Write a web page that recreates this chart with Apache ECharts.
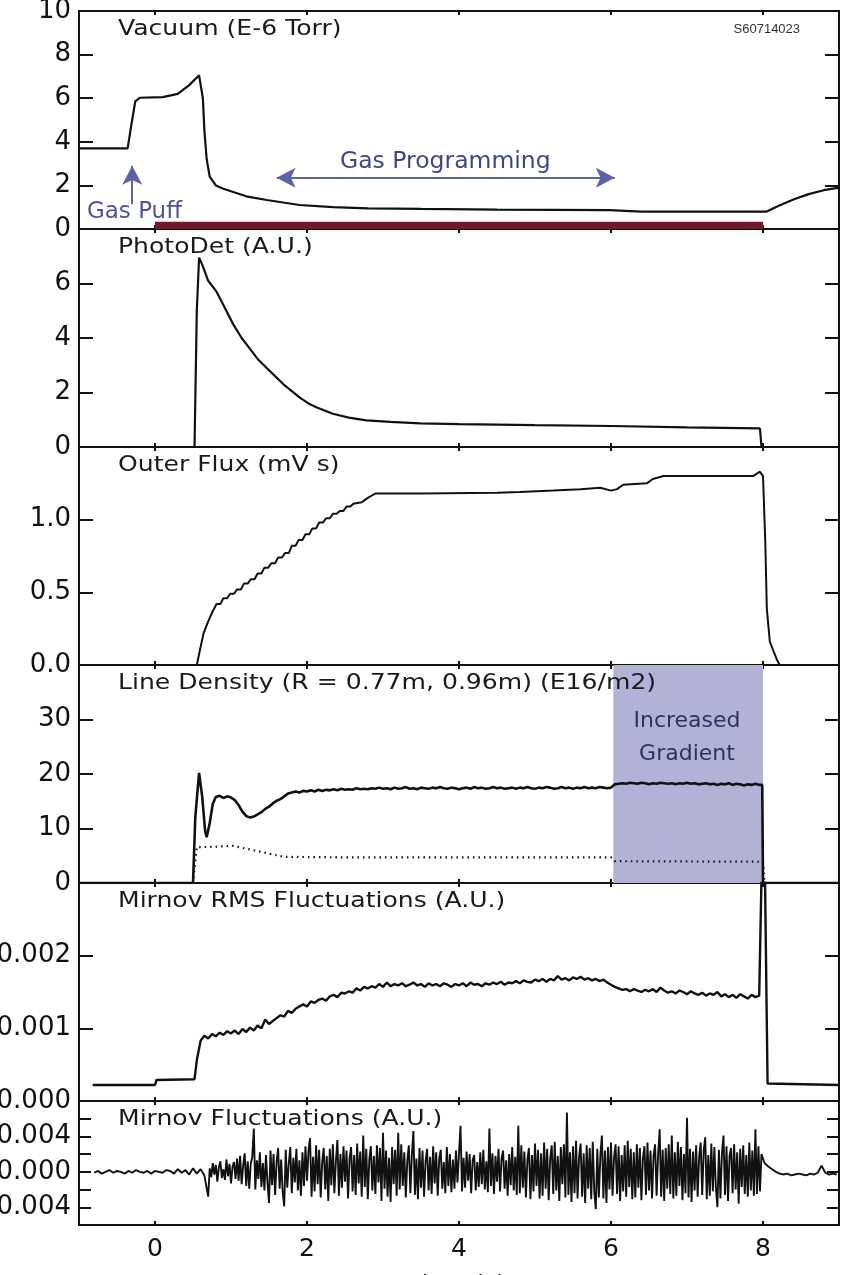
<!DOCTYPE html>
<html>
<head>
<meta charset="utf-8">
<script src="https://cdn.jsdelivr.net/npm/echarts@6/dist/echarts.min.js"></script>
<style>
  html, body { margin: 0; padding: 0; background: #fff; }
  #chart { width: 845px; height: 1275px; }
</style>
</head>
<body>
<div id="chart"></div>
<script>
// ---- shot S60714023 : time traces, time in seconds ----

const timeTicks = [0, 2, 4, 6, 8];

// Vacuum (E-6 Torr)
const vacuum = [
  [-1, 3.7], [-0.36, 3.7], [-0.31, 4.8], [-0.26, 5.85], [-0.2, 6.02], [0.1, 6.05],
  [0.3, 6.2], [0.45, 6.6], [0.58, 7.05], [0.63, 6.0], [0.65, 4.5], [0.68, 3.2],
  [0.72, 2.4], [0.8, 2.0], [0.9, 1.85], [1.03, 1.7], [1.2, 1.5], [1.47, 1.33],
  [1.9, 1.1], [2.34, 1.0], [2.8, 0.95], [3.5, 0.92], [4.5, 0.89], [5.98, 0.87],
  [6.4, 0.8], [8.05, 0.8], [8.2, 1.05], [8.4, 1.35], [8.6, 1.6], [8.8, 1.78], [9, 1.9]
];
const plasmaWindow = [0, 8];          // discharge interval, maroon band
const gasPuffTime = -0.3;
const gasProgramming = [1.6, 6.05];   // programmed gas interval

// PhotoDet (A.U.)
const photoDet = [
  [-1, 0], [0.52, 0], [0.55, 5.0], [0.58, 6.95], [0.62, 6.7], [0.7, 6.1], [0.81, 5.7],
  [0.92, 5.1], [1.03, 4.5], [1.14, 4.0], [1.25, 3.6], [1.36, 3.2], [1.47, 2.9],
  [1.58, 2.6], [1.69, 2.3], [1.8, 2.05], [1.91, 1.8], [2.02, 1.6], [2.13, 1.45],
  [2.34, 1.22], [2.55, 1.08], [2.78, 0.98], [3.1, 0.92], [3.49, 0.87], [4, 0.84],
  [5, 0.8], [6, 0.77], [7, 0.72], [7.96, 0.68], [7.98, 0], [9, 0]
];

// Outer Flux (mV s)
const outerFlux = [
  [-1, 0], [0.55, 0], [0.59, 0.1], [0.64, 0.22], [0.7, 0.3], [0.76, 0.37], [0.81, 0.42],
  [0.86, 0.42], [0.9, 0.46], [0.95, 0.46], [0.99, 0.49], [1.04, 0.49], [1.08, 0.52],
  [1.13, 0.52], [1.17, 0.56], [1.22, 0.56], [1.26, 0.59], [1.31, 0.59], [1.35, 0.63],
  [1.4, 0.63], [1.44, 0.67], [1.49, 0.67], [1.53, 0.7], [1.58, 0.7], [1.62, 0.74],
  [1.67, 0.74], [1.71, 0.77], [1.76, 0.77], [1.8, 0.82], [1.85, 0.82], [1.89, 0.86],
  [1.94, 0.86], [1.98, 0.9], [2.03, 0.9], [2.07, 0.94], [2.12, 0.94], [2.16, 0.98],
  [2.21, 0.98], [2.25, 1.01], [2.3, 1.01], [2.34, 1.04], [2.39, 1.04], [2.43, 1.06],
  [2.48, 1.06], [2.52, 1.09], [2.57, 1.09], [2.61, 1.11], [2.72, 1.12], [2.8, 1.15],
  [2.9, 1.18], [3.5, 1.18], [4.5, 1.185], [4.8, 1.19], [5.24, 1.2], [5.6, 1.21],
  [5.86, 1.22], [6.0, 1.2], [6.08, 1.21], [6.16, 1.24], [6.47, 1.25], [6.55, 1.28],
  [6.69, 1.3], [7.87, 1.3], [7.96, 1.33], [8.0, 1.3], [8.03, 0.85], [8.05, 0.39],
  [8.09, 0.16], [8.18, 0.04], [8.22, 0], [9, 0]
];

// Line Density (E16/m2), R = 0.77 m (solid) and 0.96 m (dotted)
const densityStart = [
  [-1, 0], [0.5, 0], [0.53, 12], [0.58, 20.2], [0.62, 16], [0.66, 9.5], [0.68, 8.4],
  [0.72, 11], [0.76, 14.5]
];
const densityT0 = 0.8, densityDt = 0.05;
const densityInner = [
  15.8, 16.0, 15.6, 15.9, 15.7, 15.2, 14.3, 13.1, 12.3, 12.0, 12.2, 12.6, 13.0, 13.6, 14.0, 14.6, 15.1, 15.4, 15.9, 16.4,
  16.6, 16.8, 16.6, 16.9, 16.8, 17.0, 16.8, 17.1, 16.9, 17.1, 17.0, 17.2, 17.0, 17.3, 17.1, 17.2, 17.1, 17.4, 17.2, 17.3,
  17.2, 17.4, 17.3, 17.5, 17.3, 17.4, 17.2, 17.5, 17.3, 17.4, 17.6, 17.3, 17.4, 17.2, 17.5, 17.4, 17.3, 17.5, 17.4, 17.6,
  17.4, 17.3, 17.5, 17.4, 17.2, 17.4, 17.5, 17.3, 17.6, 17.4, 17.5, 17.3, 17.4, 17.6, 17.4, 17.5, 17.3, 17.4, 17.5, 17.3,
  17.5, 17.4, 17.6, 17.4, 17.3, 17.5, 17.4, 17.6, 17.5, 17.3, 17.4, 17.6, 17.4, 17.5, 17.3, 17.5, 17.4, 17.6, 17.4, 17.5,
  17.4, 17.6, 17.5, 17.4, 17.5, 18.1, 18.2, 18.3, 18.2, 18.4, 18.3, 18.2, 18.4, 18.3, 18.1, 18.3, 18.2, 18.4, 18.3, 18.2,
  18.3, 18.1, 18.3, 18.2, 18.4, 18.2, 18.3, 18.1, 18.2, 18.3, 18.1, 18.2, 18.0, 18.2, 18.1, 18.3, 18.0, 18.2, 18.1, 17.9,
  18.1, 18.0, 18.2, 18.0
];
const densityEnd = [[7.99, 18.0], [8.0, 0], [9, 0]];
const densityOuter = [
  [0.5, 0], [0.55, 6.6], [0.64, 6.6], [1.03, 6.8], [1.2, 6.3], [1.47, 5.5], [1.69, 4.8],
  [2.5, 4.7], [3.5, 4.7], [6.0, 4.7], [6.05, 4.0], [8.0, 3.9], [8.02, 0]
];
const increasedGradient = [6.03, 8.0];

// Mirnov RMS Fluctuations (A.U.), noisy part stored in units of 1e-5
const rmsStart = [
  [-0.82, 0.00022], [0.0, 0.00022], [0.02, 0.00029], [0.52, 0.0003], [0.55, 0.00056]
];
const rmsT0 = 0.6, rmsDt = 0.05;
const rmsE5 = [
  83, 90, 86, 92, 89, 94, 91, 96, 93, 97, 92, 99, 95, 101, 97, 104, 100, 112, 106, 110,
  114, 118, 116, 124, 121, 127, 130, 133, 130, 137, 135, 139, 141, 138, 144, 146, 143, 149, 148, 151,
  149, 155, 152, 157, 155, 158, 156, 161, 157, 163, 158, 161, 159, 162, 158, 160, 163, 159, 161, 157,
  162, 159, 161, 158, 162, 160, 157, 161, 159, 162, 158, 163, 160, 161, 158, 162, 160, 163, 161, 164,
  160, 163, 162, 165, 162, 166, 164, 163, 167, 165, 168, 164, 168, 166, 172, 167, 169, 166, 170, 168,
  171, 167, 169, 166, 168, 165, 167, 163, 160, 157, 155, 153, 154, 151, 154, 152, 150, 153, 151, 154,
  150, 156, 152, 149, 151, 148, 152, 150, 147, 151, 148, 146, 149, 145, 148, 146, 150, 144, 147, 143,
  146, 142, 147, 144, 141, 146, 143, 145
];
const rmsEnd = [[7.97, 0.00143], [7.99, 0.0036], [8.02, 0.0036], [8.06, 0.00024], [9, 0.00022]];

// Mirnov Fluctuations (A.U.), stored in units of 1e-4
const fluctPre = { t0: -0.8, dt: 0.05, values: [
  -1, 1, -2, 0, 2, -1, 1, 0, -2, 1, -1, 2, 0, -1, 1, -2, 1, 0, -1, 2, 1, -2, 3, -1, 2, -3, 4, -2, 3, -4
]};
const fluctActive = { t0: 0.7, dt: 0.02, values: [
  -28, 4, -6, 10, -3, 8, -11, 5, 12, -7, 3, -9, 14, -5, 9, -13, 6, 11, -8, 15,
  -10, 18, -14, 7, 21, -16, 12, -19, 9, 17, 49, -20, 13, -8, 22, -17, 10, -21, 19, -12,
  -35, 24, -15, 20, -26, 11, 27, -19, 14, -23, -39, 25, -18, 9, 28, -24, 16, -12, 26, -21,
  13, -27, 22, -16, 29, -10, 24, 38, -28, 17, -22, 30, -14, 25, -29, 11, 27, -20, 18, -33,
  26, -15, 31, -24, 12, 36, -27, 20, -18, 29, -11, 24, -30, 15, 28, -22, 19, -26, 32, -13,
  23, -28, 41, -17, 26, -31, 14, 29, -21, 18, -25, 30, -12, 27, -33, 44, -19, 24, -28, 16,
  -34, 28, -14, 25, -27, 44, -20, 31, -16, 22, -29, 13, 30, -24, 19, 46, -26, 15, -31, 27,
  -18, 24, -28, 12, 26, -21, 17, -25, 29, -13, 22, -27, 15, 25, -19, 11, -24, 28, -16, 20,
  -23, 14, -19, 24, -12, 21, 52, -22, 16, -18, 23, -10, 20, -24, 13, 19, -21, 11, -17, 22,
  -14, 25, -20, 12, -23, 49, -16, 21, -25, 18, -11, 26, -22, 15, 24, -19, 13, -27, 20, -15,
  28, -21, 17, -26, 52, -24, 30, -18, 23, -29, 14, 27, -31, 19, -22, 32, -16, 25, -30, 21,
  -27, 33, -19, 26, -32, 15, 30, -25, 34, -21, 18, -33, 28, -14, 31, -29, 67, -26, 22, -34,
  29, -24, 35, -30, 17, 32, -28, 21, -35, 30, -19, 27, -31, 34, -23, -42, 26, -29, 18, 41,
  -30, 24, -35, 28, -20, 33, -27, 16, 31, -25, 29, -33, 19, -22, 30, -28, 35, -17, 26, -31,
  22, -29, 31, -18, 27, -32, 15, 29, -26, 33, -21, 24, -30, 18, 31, -27, 20, 48, -28, 25,
  -33, 27, -19, 31, -25, 41, -30, 22, -27, 34, -16, 28, -32, 20, -24, 61, -29, 26, -34, 23,
  -21, 30, -28, 17, 33, -26, 24, 39, -31, 19, -27, 32, -22, 28, -18, -40, 25, -30, 21, 41,
  -26, 29, -33, 18, 27, -24, 31, -20, 22, -36, 26, -17, 30, -25, 19, -28, 33, -21, 24, -27,
  48, -25, 29, -22, 20
]};
const fluctPost = { t0: 8.02, dt: 0.05, values: [
  10, 6, 3, 0, -2, -3, -2, -4, -3, -2, -3, -4, -2, -3, -1, 7, -1, -3, -2, -3
]};

// ---- build sampled traces ----
function sampled(t0, dt, values, unit) {
  return values.map((v, i) => [+(t0 + i * dt).toFixed(3), v * unit]);
}
const densitySeries = densityStart
  .concat(sampled(densityT0, densityDt, densityInner, 1))
  .concat(densityEnd);
const rmsSeries = rmsStart
  .concat(sampled(rmsT0, rmsDt, rmsE5, 1e-5))
  .concat(rmsEnd);
const fluctSeries = [fluctPre, fluctActive, fluctPost]
  .map(s => sampled(s.t0, s.dt, s.values, 1e-4))
  .flat();

// ---- layout ----
const FONT = 'DejaVu Sans';
const INK = '#111';
const LEFT = 79, RIGHT = 6;
const panels = [
  { top: 11,   height: 218, min: 0,      max: 10,    interval: 2,     fmt: v => String(v),     showMax: true,  title: 'Vacuum (E-6 Torr)' },
  { top: 229,  height: 218, min: 0,      max: 8,     interval: 2,     fmt: v => String(v),     showMax: false, title: 'PhotoDet (A.U.)' },
  { top: 447,  height: 218, min: 0,      max: 1.5,   interval: 0.5,   fmt: v => v.toFixed(1),  showMax: false, title: 'Outer Flux (mV s)' },
  { top: 665,  height: 218, min: 0,      max: 40,    interval: 10,    fmt: v => String(v),     showMax: false, title: 'Line Density (R = 0.77m, 0.96m) (E16/m2)' },
  { top: 883,  height: 218, min: 0,      max: 0.003, interval: 0.001, fmt: v => v.toFixed(3),  showMax: false, title: 'Mirnov RMS Fluctuations (A.U.)' },
  { top: 1101, height: 124, min: -0.006, max: 0.008, interval: 0.002, fmt: v => v.toFixed(3),  showMax: true,  title: 'Mirnov Fluctuations (A.U.)',
    labelValues: [-0.004, 0, 0.004], tickLen: 12 }
];

const grid = panels.map(p => ({
  left: LEFT, right: RIGHT, top: p.top, height: p.height,
  outerBoundsMode: 'none', containLabel: false,
  show: true, borderColor: INK, borderWidth: 2, backgroundColor: 'transparent'
}));

const tickStyle = { color: INK, width: 2 };
const xAxis = [];
panels.forEach((p, i) => {
  const last = i === panels.length - 1;
  xAxis.push({
    type: 'value', gridIndex: i, min: -1, max: 9, position: 'bottom',
    axisLine: { show: false, onZero: false },
    splitLine: { show: false },
    axisTick: { show: true, inside: true, length: 4, customValues: timeTicks, lineStyle: tickStyle },
    axisLabel: last
      ? { show: true, customValues: timeTicks, fontFamily: FONT, fontSize: 25, color: INK, margin: 12 }
      : { show: false },
    name: last ? 'time (s)' : '',
    nameLocation: 'middle', nameGap: 50,
    nameTextStyle: { fontFamily: FONT, fontSize: 24, color: INK }
  });
});
panels.forEach((p, i) => {
  xAxis.push({
    type: 'value', gridIndex: i, min: -1, max: 9, position: 'top',
    axisLine: { show: false, onZero: false }, splitLine: { show: false }, axisLabel: { show: false },
    axisTick: { show: true, inside: true, length: 4, customValues: timeTicks, lineStyle: tickStyle }
  });
});

const yAxis = [];
panels.forEach((p, i) => {
  const label = { show: true, fontFamily: FONT, fontSize: 26, color: INK, margin: 8,
    showMaxLabel: p.showMax, showMinLabel: true, formatter: p.fmt };
  if (p.labelValues) label.customValues = p.labelValues;
  yAxis.push({
    type: 'value', gridIndex: i, position: 'left', min: p.min, max: p.max, interval: p.interval,
    axisLine: { show: false, onZero: false }, splitLine: { show: false },
    axisTick: { show: true, inside: true, length: p.tickLen || 14, lineStyle: tickStyle },
    axisLabel: label
  });
});
panels.forEach((p, i) => {
  yAxis.push({
    type: 'value', gridIndex: i, position: 'right', min: p.min, max: p.max, interval: p.interval,
    axisLine: { show: false, onZero: false }, splitLine: { show: false }, axisLabel: { show: false },
    axisTick: { show: true, inside: true, length: p.tickLen || 14, lineStyle: tickStyle }
  });
});

const NAVY = '#474c95';
function note(coord, text, style) {
  return {
    coord: coord, value: 0, symbol: 'rect', symbolSize: 1,
    itemStyle: { color: 'transparent' },
    label: Object.assign({ show: true, position: 'inside', formatter: text,
      fontFamily: FONT, fontSize: 21, color: NAVY }, style || {})
  };
}

function trace(i, data, width, extra) {
  return Object.assign({
    type: 'line', xAxisIndex: i, yAxisIndex: i, data: data,
    showSymbol: false, symbol: 'none', silent: true, z: 3,
    lineStyle: { color: INK, width: width }
  }, extra || {});
}

const series = [
  // panel 1: vacuum
  trace(0, vacuum, 2.2, {
    markArea: {
      silent: true,
      itemStyle: { color: '#6e1a2c' },
      data: [[{ coord: [plasmaWindow[0], 0] }, { coord: [plasmaWindow[1], 0.33] }]]
    },
    markLine: {
      silent: true, animation: false,
      label: { show: false },
      lineStyle: { color: '#5d62a6', width: 2, type: 'solid' },
      symbolSize: [15, 19],
      data: [
        [{ coord: [gasProgramming[0], 2.35], symbol: 'arrow' }, { coord: [gasProgramming[1], 2.35], symbol: 'arrow' }],
        [{ coord: [gasPuffTime, 1.15], symbol: 'none' }, { coord: [gasPuffTime, 2.9], symbol: 'arrow' }]
      ]
    },
    markPoint: {
      silent: true, animation: false,
      data: [
        note([3.82, 3.07], 'Gas Programming', { fontSize: 23.5, color: '#40458a' }),
        note([-0.27, 0.8], 'Gas Puff', { fontSize: 23, color: '#4c52a0' }),
        note([8.05, 9.15], 'S60714023', { fontSize: 13, color: '#333', fontFamily: 'Liberation Sans' })
      ]
    }
  }),
  // panel 2: photodetector
  trace(1, photoDet, 2.2),
  // panel 3: outer flux
  trace(2, outerFlux, 2),
  // panel 4: line density, shaded high-gradient window underneath
  {
    type: 'line', xAxisIndex: 3, yAxisIndex: 3, data: [], silent: true, z: 1,
    markArea: {
      silent: true,
      itemStyle: { color: '#b2b2d6' },
      data: [[{ xAxis: increasedGradient[0] }, { xAxis: increasedGradient[1] }]]
    },
    markPoint: {
      silent: true, animation: false,
      data: [note([7.0, 26.6], 'Increased\nGradient', { fontSize: 22, lineHeight: 33, color: '#2e3260', align: 'center' })]
    }
  },
  trace(3, densityOuter, 2.2, { lineStyle: { color: '#111', width: 2.2, type: [1.5, 4] } }),
  trace(3, densitySeries, 2.6),
  // panel 5: RMS of magnetic fluctuations
  trace(4, rmsSeries, 2.4),
  // panel 6: raw magnetic fluctuations
  trace(5, fluctSeries, 1.9)
];

// panel captions, drawn above the shading
const graphic = panels.map((p, i) => ({
  type: 'text', x: 118, y: p.top + 7, scaleX: 1.14, silent: true, z: 100,
  style: { text: p.title, fontFamily: FONT, fontSize: 22, fill: '#1a1a1a' }
}));

const chart = echarts.init(document.getElementById('chart'), null, { renderer: 'canvas' });
chart.setOption({
  animation: false,
  backgroundColor: '#fff',
  grid: grid,
  xAxis: xAxis,
  yAxis: yAxis,
  series: series,
  graphic: graphic
});
</script>
</body>
</html>
